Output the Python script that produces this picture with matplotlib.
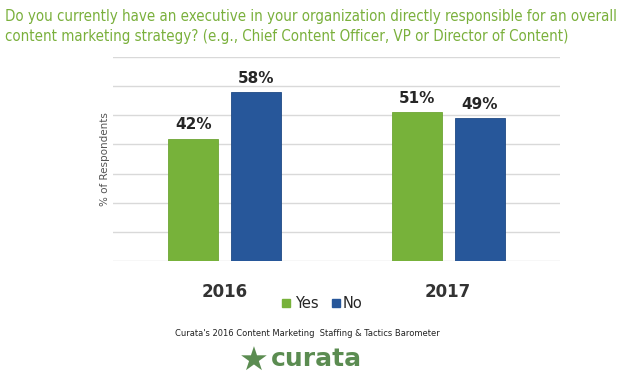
import numpy as np
import matplotlib
matplotlib.use("Agg")
import matplotlib.pyplot as plt
from matplotlib.patches import Rectangle

years = ["2016", "2017"]
yes = [42, 51]
no = [58, 49]
series = ["Yes", "No"]

green = "#77b23a"
blue = "#27579a"
title_green = "#7ab03c"

fig = plt.figure(figsize=(6.3, 3.82), dpi=100)
ax = fig.add_axes([113/630, 1-261/382, 447/630, (261-57)/382])

x = np.array([0.5, 1.5])
w = 0.224
off = 0.141
b1 = ax.bar(x - off, yes, w, color=green, edgecolor="#6ea535", linewidth=0.6, zorder=3)
b2 = ax.bar(x + off, no, w, color=blue, edgecolor="#1f4a85", linewidth=0.6, zorder=3)
for bars in (b1, b2):
    for r in bars:
        ax.text(r.get_x() + r.get_width()/2, r.get_height() + 2.2, f"{r.get_height():.0f}%",
                ha="center", va="bottom", fontsize=11, fontweight="bold", color="#262626")

ax.set_xlim(0, 2)
ax.set_ylim(0, 70)
ax.set_yticks(np.arange(0, 71, 10))
ax.yaxis.grid(True, color="#d9d9d9", linewidth=1)
ax.set_axisbelow(True)
ax.tick_params(left=False, bottom=False, labelleft=False)
ax.set_xticks(x)
ax.set_xticklabels(years, fontsize=12, fontweight="bold", color="#333333")
ax.tick_params(axis="x", pad=12)
for s in ax.spines.values():
    s.set_visible(False)
ax.set_ylabel("% of Respondents", fontsize=7.5, color="#555555", labelpad=2)

# title
fig.text(5/630, 1-16/382, "Do you currently have an executive in your organization directly responsible for an overall",
         fontsize=10.8, color=title_green, va="center", ha="left", fontstretch="condensed")
fig.text(5/630, 1-37/382, "content marketing strategy? (e.g., Chief Content Officer, VP or Director of Content)",
         fontsize=10.8, color=title_green, va="center", ha="left", fontstretch="condensed")

# legend
fig.patches.append(Rectangle((282/630, 1-307/382), 8/630, 8/382, transform=fig.transFigure,
                             color=green, figure=fig))
fig.text(295/630, 1-303/382, series[0], fontsize=10.5, color="#262626", va="center")
fig.patches.append(Rectangle((332/630, 1-307/382), 8/630, 8/382, transform=fig.transFigure,
                             color=blue, figure=fig))
fig.text(343/630, 1-303/382, series[1], fontsize=10.5, color="#262626", va="center")

# footer
fig.text(175/630, 1-333/382, "Curata's 2016 Content Marketing  Staffing & Tactics Barometer",
         fontsize=6, color="#222222", va="center")

# logo
fig.text(254/630, 1-361/382, "\u2605", fontsize=24, color="#5b8c51", va="center", ha="center")
fig.text(271/630, 1-359/382, "curata", fontsize=18, color="#5b8c51", va="center", ha="left",
         fontweight="semibold")

fig.savefig("out.png", dpi=100)
